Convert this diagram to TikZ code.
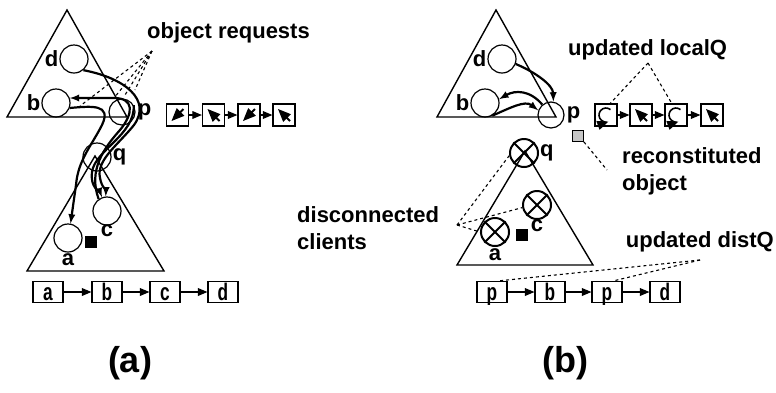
\documentclass[tikz,border=0pt]{standalone}
\usepackage{fontspec}
\setmainfont{Liberation Sans}
\usepackage{graphicx}
\usetikzlibrary{arrows,positioning,shapes.misc}
\newcommand{\nar}[1]{\scalebox{.72}[1]{#1}}

\tikzset{
  obj/.style={circle,draw,minimum size=28pt,inner sep=0pt,line width=1.2pt},
  gone/.style={obj,line width=2pt},
  lbl/.style={font=\fontsize{22}{22}\selectfont\bfseries,inner sep=1pt},
  note/.style={font=\fontsize{22}{27}\selectfont\bfseries,align=left,inner sep=0pt},
  figcap/.style={font=\fontsize{36}{36}\selectfont\bfseries,inner sep=0pt},
  qbox/.style={draw,minimum size=22pt,inner sep=0pt,line width=1.3pt},
  lbox/.style={draw,minimum width=30pt,minimum height=21pt,inner sep=0pt,line width=1.2pt,
    text height=18.5pt,text depth=2.5pt,font=\fontsize{24}{24}\selectfont\bfseries},
  req/.style={-latex,line width=2.2pt},
  link/.style={-triangle 45,line width=1.2pt},
  tip/.style={-triangle 45,line width=2pt},
  tree/.style={line width=1.4pt,line join=miter},
  callout/.style={dashed,line width=1.1pt},
}

\begin{document}
\begin{tikzpicture}[x=1pt,y=-1pt]
\useasboundingbox (0,0) rectangle (776,392);

% (a) trees
\draw[tree] (67,10) -- (7,117) -- (127,117) -- cycle;
\draw[tree] (95,156) -- (27,271) -- (164,271) -- cycle;
\node[obj] (d1) at (74,59) {};
\node[lbl,left=0pt of d1] {d};
\node[obj] (b1) at (56,103) {};
\node[lbl,left=0pt of b1] {b};
\node[obj,minimum size=26pt] (p1) at (122,112) {};
\node[lbl,right=1pt of p1] {p};
\node[obj] (q1) at (97,157) {};
\node[lbl,right=0pt of q1] {q};
\node[obj] (c1) at (107,211) {};
\node[lbl,below=-2pt of c1] {c};
\node[obj] (a1) at (68,238) {};
\node[lbl,below=0pt of a1] {a};
\node[fill,minimum size=12pt,inner sep=0pt] (tok1) at (91,242) {};

% requests
\draw[req] (d1.-50) .. controls (125,78) and (152,100) .. (134,125)
  .. controls (118,145) and (96,160) .. (100,178) .. controls (102,188) and (106,190) .. (c1.95);
\draw[req] (c1.125) .. controls (88,170) and (104,148) .. (120,130)
  .. controls (134,113) and (134,98) .. (114,98) -- (b1.20);
\draw[req] (b1.-20) .. controls (92,106) and (112,104) .. (102,125)
  .. controls (92,145) and (78,160) .. (76,185) -- (a1.80);
\draw[req] (p1.30) .. controls (135,135) and (95,150) .. (92,172)
  .. controls (90,188) and (100,192) .. (c1.110);

\node[note,anchor=west] (ask) at (147,33) {object requests};
\coordinate (askfoot) at (152,51);
\coordinate (hit1) at (80,106);
\coordinate (hit2) at (114,98);
\coordinate (hit3) at (125,95);
\coordinate (hit4) at (135,90);
\foreach \n in {1,...,4} \draw[callout] (askfoot) -- (hit\n);

% (a) localQ
\foreach \i/\x in {1/177.5,2/213.5,3/249,4/284}
  \node[qbox] (lq\i) at (\x,115) {};
\foreach \i/\j in {1/2,2/3,3/4} \draw[link] (lq\i) -- (lq\j);
\foreach \i in {1,3}
  \draw[tip] ([shift={(6,-6)}]lq\i.center) -- ([shift={(-6,6)}]lq\i.center);
\foreach \i in {2,4}
  \draw[tip] ([shift={(6,6)}]lq\i.center) -- ([shift={(-6,-6)}]lq\i.center);

% (a) distQ
\foreach \i/\x/\t in {1/48/a,2/107/b,3/165/c,4/223/d}
  \node[lbox] (aq\i) at (\x,292) {\nar{\t}};
\foreach \i/\j in {1/2,2/3,3/4} \draw[link] (aq\i) -- (aq\j);
\node[figcap] (capa) at (130,363) {(a)};

% (b) trees
\draw[tree] (496,10) -- (437,117) -- (556,117) -- cycle;
\draw[tree] (525,151) -- (457,265) -- (593,265) -- cycle;
\node[obj] (d2) at (502,59) {};
\node[lbl,left=0pt of d2] {d};
\node[obj] (b2) at (485,103) {};
\node[lbl,left=0pt of b2] {b};
\node[obj,minimum size=26pt] (p2) at (551,115) {};
\node[lbl,right=1pt of p2] {p};
\node[gone] (q2) at (524,153) {};
\node[lbl,right=0pt of q2] {q};
\node[gone] (c2) at (537,205) {};
\node[lbl,below=-2pt of c2] {c};
\node[gone] (a2) at (495,232) {};
\node[lbl,below=0pt of a2] {a};
\foreach \n in {q2,c2,a2}
  \draw[line width=1.8pt] (\n.45) -- (\n.225) (\n.135) -- (\n.315);
\node[fill,minimum size=12pt,inner sep=0pt] (tok2) at (522,235) {};
\node[draw,fill=gray!45,minimum size=11pt,inner sep=0pt,line width=.8pt] (obj) at (578,136) {};

\draw[req] (d2.-20) .. controls (535,72) and (553,85) .. (p2.80);
\draw[req] (p2.130) .. controls (530,90) and (515,90) .. (b2.15);
\draw[req] (b2.-60) .. controls (510,108) and (525,100) .. (p2.160);

% (b) callouts
\node[note,anchor=west] (lost) at (297,228) {disconnected\\clients};
\coordinate (lostfoot) at (457,225);
\draw[callout] (lostfoot) -- (q2.190);
\draw[callout] (lostfoot) -- (c2.190);
\draw[callout] (lostfoot) -- (a2.180);

\node[note,anchor=west] (loc) at (568,50) {updated localQ};
\coordinate (locfoot) at (648,63);

\node[note,anchor=west] (rebuilt) at (622,171) {reconstituted\\object};
\coordinate (rebuiltfoot) at (607,170);
\draw[callout] (obj.south east) -- (rebuiltfoot);

\node[note,anchor=east] (dist) at (774,242) {updated distQ};
\coordinate (distfoot) at (700,260);

% (b) localQ
\foreach \i/\x in {1/606,2/641,3/676,4/712}
  \node[qbox] (rq\i) at (\x,115) {};
\foreach \i/\j in {1/2,2/3,3/4} \draw[link] (rq\i) -- (rq\j);
\foreach \i in {1,3}
  \draw[tip,line width=1.6pt] ([shift={(-50:7)}]rq\i.center) arc[start angle=-50,end angle=-290,radius=7];
\foreach \i in {2,4}
  \draw[tip] ([shift={(6,6)}]rq\i.center) -- ([shift={(-6,-6)}]rq\i.center);
\draw[callout] (locfoot) -- (rq1.70);
\draw[callout] (locfoot) -- (rq3.110);

% (b) distQ
\foreach \i/\x/\t in {1/492/p,2/550/b,3/607/p,4/665/d}
  \node[lbox] (pq\i) at (\x,292) {\nar{\t}};
\foreach \i/\j in {1/2,2/3,3/4} \draw[link] (pq\i) -- (pq\j);
\draw[callout] (distfoot) -- (pq1.60);
\draw[callout] (distfoot) -- (pq3.60);
\node[figcap] (capb) at (565,363) {(b)};
\end{tikzpicture}
\end{document}
